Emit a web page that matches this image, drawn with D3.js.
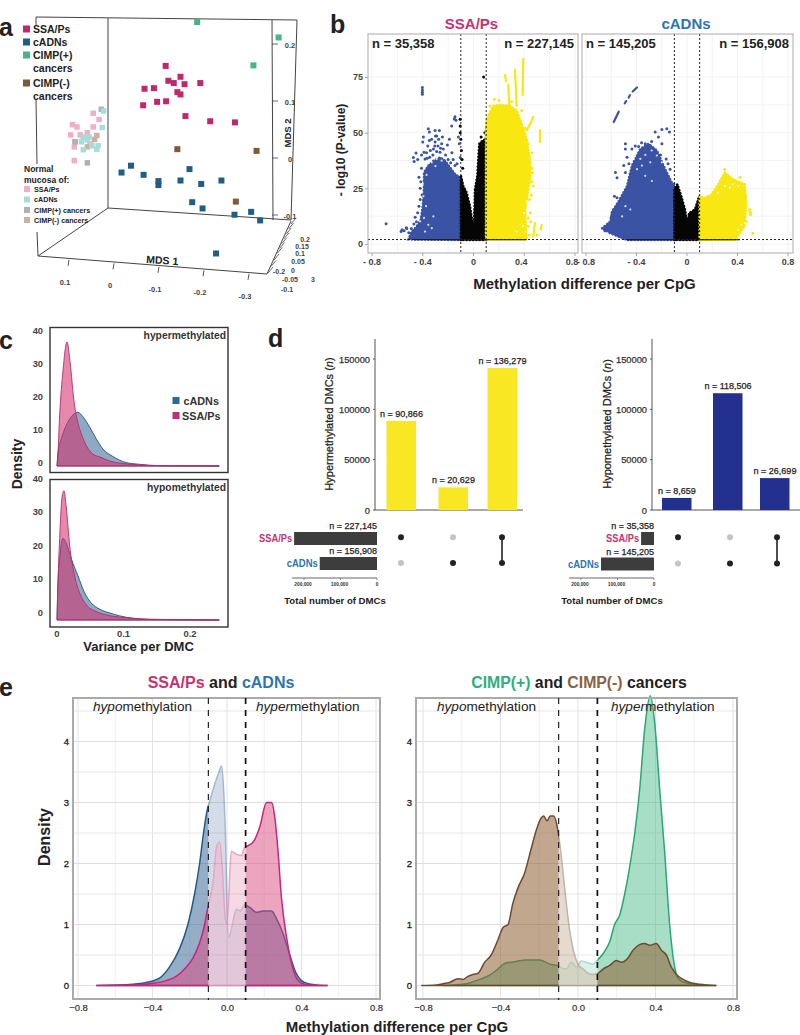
<!DOCTYPE html>
<html><head><meta charset="utf-8">
<script src="https://cdn.jsdelivr.net/npm/d3@7"></script>
<style>html,body{margin:0;padding:0;background:#fff}svg{display:block}text{font-family:"Liberation Sans",Arial,sans-serif}</style>
</head><body><svg id="c" width="800" height="1035"></svg>
<script>
// ---------- DATA ----------
// a: MDS
const mdsSSA=[[-.117,.165],[-.123,.139],[-.135,.135],[-.150,.146],[-.159,.133],[-.194,.135],[-.070,.125],[-.091,.126],[-.143,.119],[-.150,.115],[-.067,.096],[-.098,.102],[-.118,.103],[-.161,.077],[-.216,.068],[-.271,.066]];
const mdsCADN=[[-.040,-.010],[-.019,-.022],[-.068,-.026],[-.101,-.037],[-.101,-.044],[-.150,-.036],[-.170,-.016],[-.196,-.042],[-.241,-.036],[-.176,-.074],[-.199,-.085],[-.270,-.096],[-.307,-.091],[-.327,-.106],[-.229,-.164]];
const mdsCIMPp=[[-.187,.242],[-.368,.215],[-.312,.166]];
const mdsCIMPn=[[-.143,.019],[-.319,.016],[-.273,-.073]];
const mdsNormSSA=[[.044,.082],[.031,.071],[.090,.062],[.080,.058],[.044,.058],[.094,.044],[.085,.032],[.086,.023],[.086,-.001],[.057,.048],[.073,.044],[.051,.028]];
const mdsNormCADN=[[.021,.086],[.024,.057],[.066,.040],[.060,.041],[.053,.040],[.070,.032],[.057,.035],[.033,.025],[.066,.018],[.036,.019],[.047,.025]];
const mdsNormCp=[[.026,.089],[.057,-.005],[.084,.032]];
const mdsNormCn=[[.036,.043],[.041,.036],[.057,.023]];
const mdsXTicks=[.1,0,-.1,-.2,-.3];
const mdsYTicks=[.2,.1,0,-.1];
const mdsZTicks=[-.1,-.06,-.02,.02,.05,.08,.11,.14,.17,.2];
// b: volcano outlines and sparse points (difference, -log10 p)
const vlBlue=[[-.513,2.1],[-.487,5.6],[-.448,7.9],[-.416,10.9],[-.400,17],[-.390,24.5],[-.390,32.1],[-.356,35.2],[-.316,37.4],[-.264,38.9],[-.224,37.4],[-.185,34.4],[-.146,31.4],[-.1,29.8],[-.1,1.8]];
const vlBlack=[[-.1,1.8],[-.1,30.9],[-.08,26],[-.054,23],[-.028,17],[-.007,9.4],[.004,8.6],[.012,24.5],[.03,30.6],[.04,40],[.046,45],[.072,46.5],[.098,47],[.1,53],[.1,1.8]];
const vlYellow=[[.098,2.1],[.098,54.1],[.117,57.9],[.156,62],[.209,62.5],[.287,62],[.34,60],[.379,54],[.419,47.3],[.445,38.2],[.45,30.6],[.432,24.5],[.408,15.5],[.413,6.4],[.419,2.1]];
const vlBlueDots=[[-.403,70.3],[-.403,69.2],[-.403,68.2],[-.403,67.2],[-.146,57.1],[-.138,55.6],[-.151,56.1],[-.172,53],[-.356,51.8],[-.348,50.3],[-.303,51],[-.269,51],[-.29,48.5],[-.395,48],[-.4,45.8],[-.348,46.5],[-.303,45.8],[-.251,45],[-.19,47],[-.206,44.5],[-.453,40.9],[-.474,38.9],[-.468,37],[-.39,41.2],[-.382,38.2],[-.316,42.7],[-.238,42.7],[-.264,41.2],[-.119,48],[-.112,45],[-.105,38.9],[-.146,35.2],[-.547,6],[-.571,5.6],[-.526,7],[-.689,9.1],[-.563,6.4],[-.53,7.3],[-.44,14],[-.42,20],[-.46,12],[-.33,47],[-.28,44],[-.34,42],[-.43,30],[-.42,25],[-.36,44],[-.3,48.5],[-.32,40],[-.29,41.5],[-.26,43],[-.22,40],[-.2,38],[-.18,36.5],[-.245,48],[-.37,41],[-.44,38],[-.41,40],[-.345,39],[-.305,44],[-.275,47],[-.16,38],[-.17,41],[-.13,36],[-.41,34],[-.415,28],[-.405,22],[-.43,17],[-.45,10],[-.47,9],[-.49,7],[-.51,5],[-.365,38.5]];
const vlYellowDots=[[.432,11.7],[.458,28],[.45,10],[.44,4],[.50,4],[.47,26],[.44,20],[.46,34],[.465,32],[.448,14],[.43,8],[.455,22],[.38,60],[.41,52],[.2,64.5],[.13,62],[.165,65],[.3,64],[.43,45],[.46,41]];
const vlYellowLines=[[[.392,83],[.387,67]],[[.327,78.3],[.34,62]],[[.274,71.5],[.282,62]],[[.248,76],[.256,73]],[[.471,57.1],[.448,54],[.419,51]],[[.524,51],[.524,45.8]],[[.537,8.6],[.529,6.4]],[[.484,9.4],[.471,3.3]]];
const vlBlackDots=[[-.105,56],[-.105,53],[-.105,50],[-.1,47],[-.095,42],[-.09,38],[-.085,34],[.08,75],[.085,40],[.05,36],[.06,48],[.09,50]];
const vlHoles=[[-.39,11.7],[-.421,10.2],[-.356,8.6],[-.329,7.1],[-.374,17],[-.395,21.5],[-.316,12.4],[-.382,5.6],[-.329,36.7],[-.29,38.2],[-.251,37.4],[-.4,27],[-.37,31],[-.3,35],[.34,5.6],[.397,13.9],[.42,19],[.39,8]];
const vrBlue=[[-.672,7.1],[-.606,10.2],[-.593,14.7],[-.541,19.2],[-.475,26],[-.436,35.2],[-.37,42.7],[-.304,45],[-.239,42],[-.173,33.6],[-.121,27.6],[-.1,26.8],[-.1,1.8],[-.475,1.8],[-.606,4.8]];
const vrBlack=[[-.1,1.8],[-.1,24.5],[-.076,26.8],[-.042,20.8],[-.016,15.5],[.005,8.6],[.016,13.9],[.063,15.5],[.097,21.5],[.1,1.8]];
const vrYellow=[[.1,1.8],[.1,21.5],[.142,20.8],[.194,22.3],[.247,26.8],[.299,32.1],[.365,29.1],[.457,26.8],[.47,18.5],[.457,7.9],[.391,2.6],[.38,1.8]];
const vrBlueDots=[[-.252,50.3],[-.199,51.4],[-.16,51.8],[-.139,50.3],[-.226,48],[-.199,45],[-.488,45],[-.488,42.7],[-.436,42.7],[-.383,43.8],[-.331,45],[-.501,35.2],[-.488,32.1],[-.567,32.1],[-.554,29.8],[-.575,21.5],[-.554,20.8],[-.165,38.2],[-.134,33.6],[-.593,13.9],[-.646,7.9],[-.475,39],[-.46,36],[-.41,44],[-.36,45.5],[-.28,46],[-.21,40],[-.15,36],[-.62,9],[-.65,6],[-.6,12]];
const vrBlueLines=[[[-.58,54.8],[-.541,59.4]],[[-.493,63.2],[-.482,64.2]],[[-.462,65.8],[-.452,66.8]],[[-.43,68.5],[-.396,70.3]]];
const vrYellowDots=[[.496,15.5],[.5,14.3],[.504,13.2],[.522,4.8],[.299,33.6],[.42,30],[.46,22],[.47,10]];
const vrHoles=[[-.449,15.5],[-.488,17],[-.514,12.4],[-.396,33.6],[-.357,35.2],[-.331,30.6],[-.278,28.3],[-.37,38.2],[-.291,36.7],[-.423,38.2],[-.239,39.7],[-.199,36.7],[.404,26],[.365,26.8],[.299,26],[.247,23],[.43,8.6],[.404,6.4],[.457,9.4],[.339,25.3],[-.33,40],[-.28,42]];
const vTicksX=[-.8,-.4,0,.4,.8];
const vTicksY=[0,25,50,75];
const nCounts=[["n = 35,358","n = 227,145"],["n = 145,205","n = 156,908"]];
// c: variance density
const varHyperSSA=[[0,0],[.001,2],[.004,15],[.009,28],[.015,36.5],[.02,30],[.025,20],[.03,14],[.0365,9.5],[.044,6],[.054,3.5],[.064,2.7],[.079,1.5],[.1,.7],[.124,.3],[.155,.1],[.244,0]];
const varHyperCADN=[[0,0],[.0015,4],[.0065,8],[.014,12],[.0215,14.5],[.0315,15.8],[.039,14.5],[.049,11.5],[.059,8],[.069,5],[.084,2.8],[.104,1],[.124,.5],[.154,.1],[.244,0]];
const varHypoSSA=[[0,0],[.001,8],[.004,24],[.0075,36],[.0105,38],[.014,33],[.019,22],[.0265,13],[.034,8],[.044,4.5],[.059,2.5],[.079,1.3],[.104,.7],[.139,.2],[.244,0]];
const varHypoCADN=[[0,0],[.001,8],[.004,18],[.009,24],[.014,22.5],[.0215,18],[.0315,13],[.0415,8],[.0515,5],[.064,3.2],[.084,1.8],[.104,.8],[.139,.2],[.244,0]];
const varTicksY=[0,10,20,30,40];
const varTicksX=[0,.1,.2];
// d: UpSet
const hyperBars=[88500,22500,141000];
const hyperBarLabels=["n = 90,866","n = 20,629","n = 136,279"];
const hypoBars=[12000,116000,31700];
const hypoBarLabels=["n = 8,659","n = 118,506","n = 26,699"];
const hyperTotals=[227145,156908];
const hypoTotals=[35358,145205];
const countTicks=[0,50000,100000,150000];
const totalTicks=[200000,100000,0];
const setNames=["SSA/Ps","cADNs"];
const combos=[[1,0],[0,1],[1,1]];
// e: methylation density
const eCADN=[[-.703,0],[-.506,.02],[-.416,.06],[-.362,.12],[-.309,.3],[-.255,.6],[-.21,1],[-.174,1.5],[-.147,2],[-.126,2.5],[-.108,2.85],[-.09,3.05],[-.066,3.3],[-.043,3.5],[-.029,3.6],[-.018,3.2],[-.007,2.3],[0,1.3],[.009,.8],[.018,.85],[.032,1.05],[.05,1.25],[.072,1.22],[.093,1.32],[.122,1.28],[.158,1.2],[.194,1.22],[.239,1.22],[.265,1.1],[.301,.85],[.337,.5],[.364,.25],[.4,.08],[.436,.03],[.481,.01],[.54,0]];
const eSSA=[[-.7,0],[-.506,.01],[-.416,.03],[-.326,.08],[-.273,.15],[-.219,.3],[-.183,.45],[-.147,.7],[-.12,1],[-.108,1.2],[-.075,1.7],[-.054,2.3],[-.039,2.35],[-.025,1.9],[-.011,1.15],[0,1],[.023,2.2],[.05,2.15],[.077,2.13],[.093,2.25],[.14,2.35],[.176,2.6],[.212,3],[.239,3],[.257,2.75],[.274,2.2],[.292,1.45],[.319,.8],[.346,.37],[.373,.12],[.4,.04],[.436,.01],[.54,0]];
const eCIMPn=[[-.809,0],[-.731,.01],[-.697,.03],[-.663,.05],[-.62,.11],[-.594,.1],[-.568,.15],[-.542,.18],[-.516,.2],[-.482,.38],[-.448,.5],[-.413,.75],[-.387,.95],[-.361,1],[-.336,1.35],[-.31,1.6],[-.275,1.85],[-.241,2.25],[-.215,2.55],[-.189,2.75],[-.177,2.78],[-.16,2.7],[-.143,2.78],[-.126,2.78],[-.11,2.65],[-.091,2.25],[-.069,1.6],[-.043,.9],[-.022,.55],[0,.35],[.026,.27],[.052,.2],[.077,.18],[.103,.2],[.129,.27],[.164,.33],[.198,.41],[.224,.38],[.258,.45],[.284,.58],[.318,.67],[.344,.69],[.37,.66],[.404,.69],[.43,.58],[.456,.5],[.482,.3],[.508,.18],[.542,.1],[.577,.05],[.628,.02],[.714,0]];
const eCIMPp=[[-.697,0],[-.577,.03],[-.508,.1],[-.456,.17],[-.413,.27],[-.379,.36],[-.327,.39],[-.267,.42],[-.198,.42],[-.146,.35],[-.11,.33],[-.077,.28],[-.06,.27],[-.034,.38],[-.009,.3],[.017,.4],[.077,.35],[.095,.4],[.129,.52],[.164,.72],[.189,1],[.215,1.15],[.241,1.5],[.267,1.95],[.293,2.5],[.318,3.2],[.344,4.2],[.373,4.75],[.396,4.3],[.422,3.2],[.447,2.2],[.473,1],[.494,.4],[.516,.12],[.559,.04],[.628,.01],[.714,0]];
const eTicksX=[-.8,-.4,0,.4,.8];
const eTicksXMinor=[-.6,-.2,.2,.6];
const eTicksY=[0,1,2,3,4];
const eTicksYMinor=[.5,1.5,2.5,3.5,4.5];

// ---------- HELPERS ----------
const svg=d3.select("#c");
const C={ssa:"#c1286b",cadn:"#225f8d",cp:"#34b07c",cn:"#7c5434",ssaT:"#c4336f",cadnT:"#2e75b0",ink:"#222",grey:"#444"};
function T(g,x,y,s,o={}){
  const e=g.append("text").attr("x",x).attr("y",y).attr("font-size",o.size||10).attr("font-weight",o.weight||"bold")
   .attr("fill",o.fill||C.ink).attr("text-anchor",o.anchor||"start");
  if(o.rot!=null) e.attr("transform",`rotate(${o.rot} ${x} ${y})`);
  if(o.italic) e.attr("font-style","italic");
  if(o.len) e.attr("textLength",o.len).attr("lengthAdjust","spacingAndGlyphs");
  if(o.stroke) e.attr("stroke",o.fill||C.ink).attr("stroke-width",o.stroke);
  if(Array.isArray(s)) s.forEach(p=>{const t=e.append("tspan").text(p.t); if(p.fill)t.attr("fill",p.fill); if(p.italic)t.attr("font-style","italic");});
  else e.text(s);
  return e;
}
function L(g,x1,y1,x2,y2,c="#333",w=1,dash){
  const l=g.append("line").attr("x1",x1).attr("y1",y1).attr("x2",x2).attr("y2",y2).attr("stroke",c).attr("stroke-width",w);
  if(dash) l.attr("stroke-dasharray",dash); return l;
}
function squares(g,data,x,y,fill,s=6,op=1){
  g.selectAll(null).data(data).join("rect").attr("x",d=>x(d[0])-s/2).attr("y",d=>y(d[1])-s/2)
   .attr("width",s).attr("height",s).attr("fill",fill).attr("opacity",op);
}

// ---------- PANEL A ----------
const a=svg.append("g");
const xA=d3.scaleLinear().domain([.1,-.3]).range([68,248]);
const yA=d3.scaleLinear().domain([-.1,.2]).range([217,46]);
const zAx=d3.scaleLinear().domain([-.1,.2]).range([268,291]);
const zAy=d3.scaleLinear().domain([-.1,.2]).range([273,224]);
[[36,17,297,20],[108,18,108,208],[272,20,273,220],[297,20,291,220],[108,208,291,220],[108,208,38,256],[38,256,267,274],[267,274,291,221],[36,17,36,25],[36,100,37,164],[37,232,38,256]]
 .forEach(s=>L(a,s[0],s[1],s[2],s[3],"#444",1));
mdsYTicks.forEach(v=>{L(a,272,yA(v)-2,278,yA(v)-2,"#444",.8);T(a,290,yA(v)+2,String(v===0?"0":v),{size:7.5,anchor:"middle",fill:C.grey});});
mdsXTicks.forEach((v,i)=>{const px=xA(v);const b=257.5+ (px-38)*.078;L(a,px+1,b,px,b+6,"#444",.9);
 T(a,px-3,b+25,String(v),{size:7.5,anchor:"middle",fill:C.grey});});
mdsZTicks.forEach(v=>L(a,zAx(v),zAy(v),zAx(v)+5,zAy(v)-6,"#444",.8));
[["0.2",305,242],["0.15",302,249],["0.1",300,256],["0.05",298,264],["-0.2",279,274],["0",293,273],["-0.05",290,282],["3",313,282],["-0.1",287,292]]
 .forEach(d=>T(a,d[1],d[2],d[0],{size:7,anchor:"middle",fill:C.grey}));
T(a,162,264,"MDS 1",{size:10.5,anchor:"middle",rot:4});
T(a,291,133,"MDS 2",{size:9.5,anchor:"middle",rot:-90});
squares(a,mdsNormSSA,xA,yA,"#f0aec9",5.5);
squares(a,mdsNormCp,xA,yA,"#b0b0ae",5.5);
squares(a,mdsNormCn,xA,yA,"#c7b3a2",5.5);
squares(a,mdsNormCADN,xA,yA,"#a9dcd9",5.5);
squares(a,mdsSSA,xA,yA,C.ssa,6);
squares(a,mdsCADN,xA,yA,"#205e85",6);
squares(a,mdsCIMPp,xA,yA,"#46b684",6);
squares(a,mdsCIMPn,xA,yA,"#7f5a37",6);
T(a,-1,36,"a",{size:25});
const legA=[[29,C.ssa,"SSA/Ps"],[42,"#205e85","cADNs"],[55,"#46b684","CIMP(+)"],[83,"#7f5a37","CIMP(-)"]];
legA.forEach(d=>{a.append("rect").attr("x",23).attr("y",d[0]-3.5).attr("width",7).attr("height",7).attr("fill",d[1]);T(a,33,d[0]+4,d[2],{size:10.5});});
T(a,33,72,"cancers",{size:10.5});T(a,33,100,"cancers",{size:10.5});
T(a,24,172,"Normal",{size:8.5});T(a,24,183,"mucosa of:",{size:8.5});
[[189,"#f0aec9","SSA/Ps"],[199.5,"#a9dcd9","cADNs"],[210,"#b0b0ae","CIMP(+) cancers"],[220,"#c7b3a2","CIMP(-) cancers"]]
 .forEach(d=>{a.append("rect").attr("x",24).attr("y",d[0]-3).attr("width",6).attr("height",6).attr("fill",d[1]);T(a,34,d[0]+2.5,d[2],{size:7.2});});

// ---------- PANEL B ----------
const b=svg.append("g");
T(b,330,33,"b",{size:25});
const lineClosed=(x,y)=>d3.line().x(d=>x(d[0])).y(d=>y(d[1])).curve(d3.curveLinearClosed);
const lineOpen=(x,y)=>d3.line().x(d=>x(d[0])).y(d=>y(d[1]));
const yV=d3.scaleLinear().domain([0,75]).range([244,77]);
function volcano(left,right,lab,parts,idx){
  const x=d3.scaleLinear().domain([-.8,.8]).range([left,right]);
  const fl=idx===0?368:582, fr=idx===0?578:793;
  const g=b.append("g");
  [-.8,-.6,-.4,-.2,0,.2,.4,.6,.8].forEach(v=>L(g,x(v),34,x(v),253,"#f3f3f3",1));
  [0,12.5,25,37.5,50,62.5,75].forEach(v=>L(g,fl,yV(v),fr,yV(v),"#f3f3f3",1));
  parts.forEach(p=>{
    const gr=g.append("g");
    gr.append("path").attr("d",lineClosed(x,yV)(p.poly)).attr("fill",p.c).attr("stroke",p.c).attr("stroke-width",1);
    if(p.grain) gr.append("path").attr("d",lineClosed(x,yV)(p.poly)).attr("fill","none").attr("stroke",p.c).attr("stroke-width",2.6).attr("stroke-linecap","round").attr("stroke-dasharray","0.1 3.2");
    if(p.lines) p.lines.forEach(l=>gr.append("path").attr("d",lineOpen(x,yV)(l)).attr("fill","none").attr("stroke",p.c).attr("stroke-width",2.2).attr("stroke-linecap","round"));
    if(p.dots) gr.selectAll(null).data(p.dots).join("circle").attr("cx",d=>x(d[0])).attr("cy",d=>yV(d[1])).attr("r",1.5).attr("fill",p.c);
    if(p.holes) gr.selectAll(null).data(p.holes).join("circle").attr("cx",d=>x(d[0])).attr("cy",d=>yV(d[1])).attr("r",1.1).attr("fill","#fff").attr("opacity",.8);
  });
  L(g,x(-.47),yV(1.9),x(.42),yV(1.9),"#111",1.1);
  L(g,x(-.1),34,x(-.1),253,"#222",1,"2 2");
  L(g,x(.1),34,x(.1),253,"#222",1,"2 2");
  L(g,fl,yV(2),fr,yV(2),"#222",1,"2 2");
  g.append("rect").attr("x",fl).attr("y",34).attr("width",fr-fl).attr("height",219).attr("fill","none").attr("stroke","#aaa").attr("stroke-width",1);
  vTicksX.forEach(v=>{L(g,x(v),253,x(v),256,"#aaa",1);
    T(g,x(v)-(idx===0&&v>0?3:0),265,v===0?"0":(v<0?"- "+Math.abs(v):String(v)),{size:9,anchor:"middle",fill:"#444"});});
  const nn=nCounts[idx];
  T(g,fl+4,48,nn[0],{size:13,fill:"#222"});
  T(g,fr-4,48,nn[1],{size:13,anchor:"end",fill:"#222"});
  T(g,(fl+fr)/2-1.5,29,lab[0],{size:15,anchor:"middle",fill:lab[1]});
}
volcano(372,575,["SSA/Ps",C.ssaT],[{poly:vlBlue,c:"#3a53a4",dots:vlBlueDots,grain:true},{poly:vlBlack,c:"#050505",dots:vlBlackDots,grain:true},{poly:vlYellow,c:"#f8e710",dots:vlYellowDots,lines:vlYellowLines,grain:true,holes:vlHoles}],0);
volcano(586,788,["cADNs",C.cadnT],[{poly:vrBlue,c:"#3a53a4",dots:vrBlueDots,lines:vrBlueLines,grain:true},{poly:vrBlack,c:"#050505",grain:true},{poly:vrYellow,c:"#f8e710",dots:vrYellowDots,grain:true,holes:vrHoles}],1);
const axVY=d3.axisLeft(yV).tickValues(vTicksY).tickSize(3).tickPadding(2);
const gvy=b.append("g").attr("transform","translate(368,0)").call(axVY);
gvy.select(".domain").remove();gvy.selectAll("line").attr("stroke","#aaa");
gvy.selectAll("text").attr("font-size",9).attr("font-weight","bold").attr("fill","#444").style("font-family","Liberation Sans");
T(b,345,150,"- log10 (P-value)",{size:12,anchor:"middle",rot:-90});
T(b,584.5,289,"Methylation difference per CpG",{size:15,anchor:"middle"});

// ---------- PANEL C ----------
const c=svg.append("g");
T(c,-1,349,"c",{size:25});
const xV=d3.scaleLinear().domain([0,.2]).range([57,190]);
function varPanel(top,bot,base,labOff,name,ssa,cadn,showX){
  const y=d3.scaleLinear().domain([0,40]).range([base,base-136]);
  const area=d3.area().x(d=>xV(d[0])).y0(base).y1(d=>y(d[1])).curve(d3.curveMonotoneX);
  const g=c.append("g");
  g.append("path").attr("d",area(cadn)).attr("fill","#2f6391").attr("fill-opacity",.55).attr("stroke","#21527c").attr("stroke-width",.9);
  g.append("path").attr("d",area(ssa)).attr("fill","#d2326f").attr("fill-opacity",.58).attr("stroke","#b72a69").attr("stroke-width",.9);
  g.append("rect").attr("x",50).attr("y",top).attr("width",178).attr("height",bot-top).attr("fill","none").attr("stroke","#333").attr("stroke-width",1.4);
  varTicksY.forEach(v=>T(g,43,base-labOff-v*(bot-top-13)/40+3,String(v),{size:9.3,anchor:"end",fill:"#444"}));
  T(g,226,top+11,name,{size:10.3,anchor:"end",fill:"#333"});
  if(showX) varTicksX.forEach(v=>T(g,xV(v),637,String(v),{size:9.5,anchor:"middle",fill:"#444"}));
}
varPanel(327.5,472.5,466,3,"hypermethylated",varHyperSSA,varHyperCADN,false);
varPanel(479.5,627,620,7,"hypomethylated",varHypoSSA,varHypoCADN,true);
[[400.5,"#2b6a94","cADNs"],[415.5,"#c23070","SSA/Ps"]].forEach((d,i)=>{c.append("rect").attr("x",172.5).attr("y",d[0]-3.5).attr("width",7).attr("height",7).attr("fill",d[1]);T(c,i?182:183.5,d[0]+4,d[2],{size:10.8,fill:"#333"});});
T(c,22,464,"Density",{size:14,anchor:"middle",rot:-90});
T(c,138.5,651,"Variance per DMC",{size:13,anchor:"middle"});

// ---------- PANEL D ----------
const d_=svg.append("g");
T(d_,268,347,"d",{size:25});
const yB=d3.scaleLinear().domain([0,150000]).range([510,359]);
function upset(o){
  const g=d_.append("g");
  L(g,o.ax,339,o.ax,510,"#555",1);
  L(g,o.ax,510,o.axEnd,510,"#555",1);
  countTicks.forEach(v=>{L(g,o.ax-2,yB(v),o.ax,yB(v),"#555",1);T(g,o.ax-5,yB(v)+3.5,String(v),{size:9.3,weight:"normal",anchor:"end",fill:"#333",stroke:.25});});
  T(g,o.ylabX,424,[{t:o.ylab+" ("},{t:"n",italic:true},{t:")"}],{size:11,weight:"normal",anchor:"middle",rot:-90,fill:"#222",stroke:.25});
  o.bars.forEach((v,i)=>{
    g.append("rect").attr("x",o.cx[i]-14.5).attr("y",yB(v)).attr("width",29.5).attr("height",510-yB(v)).attr("fill",o.col);
    T(g,o.cx[i]+.5,yB(v)-4,o.labels[i],{size:9,weight:"normal",anchor:"middle",fill:"#222",stroke:.25});
  });
  const xT=d3.scaleLinear().domain([0,200000]).range([o.tr,o.tr-73]);
  o.totals.forEach((v,i)=>{
    const yy=o.rows[i];
    g.append("rect").attr("x",xT(v)).attr("y",yy-6.5).attr("width",o.tr-xT(v)).attr("height",13).attr("fill","#3d3d3d");
    T(g,o.tr,yy-9.5,"n = "+d3.format(",")(v),{size:9,weight:"normal",anchor:"end",fill:"#222",stroke:.25});
    T(g,xT(v)-2,yy+3.5,setNames[i],{size:10.5,anchor:"end",fill:i?C.cadnT:C.ssaT,len:i?31:33});
  });
  combos.forEach((cb,i)=>{
    if(cb[0]&&cb[1]) L(g,o.dotx[i],o.rows[0]-1,o.dotx[i],o.rows[1]-.5,"#222",1.6);
    cb.forEach((on,r)=>g.append("circle").attr("cx",o.dotx[i]).attr("cy",o.rows[r]-(r?.5:1.2)).attr("r",3).attr("fill",on?"#222":"#c4c4c4"));
  });
  L(g,o.tr-85,578,o.tr,578,"#555",.9);
  totalTicks.forEach(v=>{L(g,xT(v),578,xT(v),580,"#555",.6);T(g,xT(v)-(v?1:0),586,d3.format(",")(v),{size:4.8,anchor:"middle",fill:"#333"});});
  T(g,o.tr-42,604,"Total number of DMCs",{size:9.6,anchor:"middle",fill:"#222"});
}
upset({ax:375,axEnd:523,ylabX:333,ylab:"Hypermethylated DMCs",bars:hyperBars,labels:hyperBarLabels,cx:[401,453,502],dotx:[401,453,502],col:"#f8e722",totals:hyperTotals,tr:377,rows:[538.5,563.5]});
upset({ax:652,axEnd:800,ylabX:611,ylab:"Hypomethylated DMCs",bars:hypoBars,labels:hypoBarLabels,cx:[676.5,727.5,774.5],dotx:[678,730,777],col:"#24308e",totals:hypoTotals,tr:654,rows:[538.5,564]});

// ---------- PANEL E ----------
const e=svg.append("g");
T(e,-1,696,"e",{size:25});
const yE=d3.scaleLinear().domain([0,5]).range([985.5,680.5]);
let clipId=0;
function densPanel(fl,fr,xr,curves){
  const g=e.append("g");
  const x=d3.scaleLinear().domain([-.8,.8]).range(xr);
  eTicksXMinor.forEach(v=>L(g,x(v),699,x(v),998,"#efefef",1));
  eTicksX.forEach(v=>L(g,x(v),699,x(v),998,"#e2e2e2",1));
  eTicksYMinor.forEach(v=>L(g,fl,yE(v),fr,yE(v),"#e6e6e6",1));
  eTicksY.forEach(v=>L(g,fl,yE(v),fr,yE(v),"#dedede",1));
  function y1(d){return yE(d[1]);}
  const area=d3.area().x(d=>x(d[0])).y0(yE(0)).y1(y1).curve(d3.curveMonotoneX);
  const idA="cA"+(++clipId),idB="cB"+clipId;
  const defs=g.append("defs");
  const ca=defs.append("clipPath").attr("id",idA);
  ca.append("rect").attr("x",fl).attr("y",600).attr("width",x(-.1)-fl).attr("height",420);
  ca.append("rect").attr("x",x(.1)).attr("y",600).attr("width",fr-x(.1)).attr("height",420);
  defs.append("clipPath").attr("id",idB).append("rect").attr("x",x(-.1)).attr("y",600).attr("width",x(.1)-x(-.1)).attr("height",420);
  [[idA,1],[idB,.42]].forEach(p=>{
    const cg=g.append("g").attr("clip-path",`url(#${p[0]})`).attr("opacity",p[1]);
    curves.forEach(cv=>{
      cg.append("path").attr("d",area(cv.d)).attr("fill",cv.f).attr("fill-opacity",cv.o).attr("stroke",cv.s).attr("stroke-width",1.5);
    });
  });
  g.append("rect").attr("x",fl).attr("y",698).attr("width",fr-fl).attr("height",301).attr("fill","none").attr("stroke","#aaa").attr("stroke-width",2);
  L(g,x(-.1),698,x(-.1),1000,"#222",1.2,"6 6");
  L(g,x(.1),698,x(.1),1000,"#111",1.7,"6 6");
  const ax=d3.axisBottom(x).tickValues(eTicksX).tickSize(0).tickPadding(4).tickFormat(v=>v===0?"0.0":d3.format(".1f")(v).replace("-","\u2212"));
  const ga=g.append("g").attr("transform","translate(0,1000)").call(ax);
  ga.select(".domain").remove();
  ga.selectAll("text").attr("font-size",9.5).attr("fill","#333").style("font-family","Liberation Sans").attr("stroke","#333").attr("stroke-width",.2);
  eTicksY.forEach(v=>T(g,fl-4,yE(v)+3,String(v),{size:9.5,weight:"normal",anchor:"end",fill:"#222",stroke:.3}));
  return g;
}
const gL=densPanel(73,380,[78,376],[
 {d:eCADN,f:"#3f6a9b",o:.55,s:"#215c88"},
 {d:eSSA,f:"#dc4a80",o:.5,s:"#c9257a"}]);
const gR=densPanel(416,737,[423,733],[
 {d:eCIMPp,f:"#3cb57f",o:.45,s:"#27a874"},
 {d:eCIMPn,f:"#8f5f33",o:.55,s:"#6e4a2f"}]);
function hyp(g,x,y,it){T(g,x,y,[{t:it,italic:true},{t:"methylation"}],{size:13.6,weight:"normal",fill:"#222"});}
hyp(gL,93,711,"hypo");hyp(gL,256,711,"hyper");hyp(gR,437,711,"hypo");hyp(gR,611,711,"hyper");
T(e,221,688,[{t:"SSA/Ps",fill:C.ssaT},{t:" and "},{t:"cADNs",fill:C.cadnT}],{size:16,anchor:"middle"});
T(e,579,688,[{t:"CIMP(+)",fill:"#2fae7c"},{t:" and "},{t:"CIMP(-)",fill:"#8a6244"},{t:" cancers"}],{size:15.8,anchor:"middle"});
T(e,50,837,"Density",{size:16,anchor:"middle",rot:-90});
T(e,397,1032,"Methylation difference per CpG",{size:15,anchor:"middle"});
</script></body></html>
